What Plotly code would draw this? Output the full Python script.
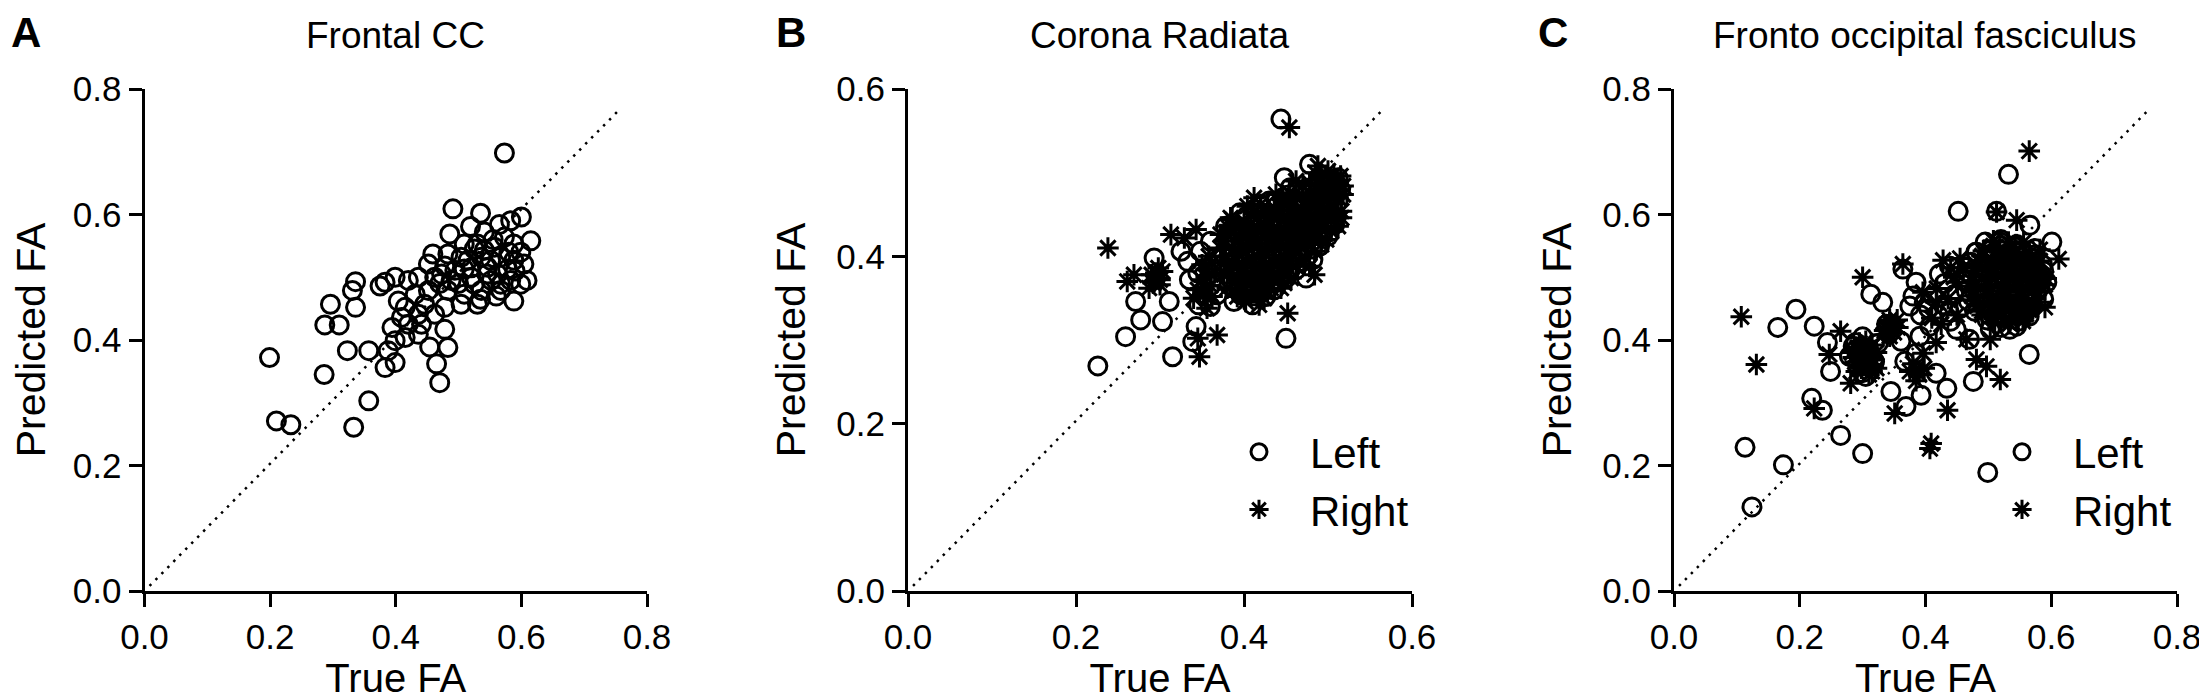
import plotly.graph_objects as go

FONT = "Liberation Sans, Arial, sans-serif"

# ---- data (True FA, Predicted FA) ----

# A: Frontal CC, one series
a_pts = [
    (0.573, 0.698), (0.491, 0.609), (0.535, 0.602), (0.600, 0.596), (0.583, 0.590),
    (0.565, 0.584), (0.519, 0.581), (0.486, 0.569), (0.541, 0.572), (0.615, 0.558),
    (0.573, 0.564), (0.588, 0.553), (0.557, 0.548), (0.530, 0.553), (0.509, 0.553),
    (0.459, 0.537), (0.483, 0.537), (0.504, 0.532), (0.536, 0.532), (0.567, 0.532),
    (0.599, 0.540), (0.604, 0.521), (0.452, 0.521), (0.478, 0.518), (0.509, 0.513),
    (0.546, 0.516), (0.578, 0.513), (0.436, 0.500), (0.462, 0.500), (0.488, 0.495),
    (0.520, 0.500), (0.552, 0.495), (0.583, 0.495), (0.599, 0.489), (0.609, 0.495),
    (0.420, 0.495), (0.383, 0.492), (0.399, 0.500), (0.375, 0.486), (0.336, 0.493),
    (0.331, 0.479), (0.336, 0.452), (0.296, 0.457), (0.287, 0.424), (0.310, 0.424),
    (0.452, 0.479), (0.483, 0.479), (0.509, 0.473), (0.536, 0.479), (0.567, 0.479),
    (0.588, 0.462), (0.530, 0.457), (0.504, 0.457), (0.478, 0.452), (0.446, 0.457),
    (0.415, 0.452), (0.409, 0.436), (0.436, 0.441), (0.462, 0.441), (0.478, 0.417),
    (0.394, 0.420), (0.420, 0.425), (0.441, 0.425), (0.415, 0.404), (0.436, 0.409),
    (0.399, 0.399), (0.454, 0.389), (0.483, 0.388), (0.388, 0.383), (0.357, 0.383),
    (0.323, 0.383), (0.383, 0.356), (0.399, 0.364), (0.465, 0.362), (0.470, 0.332),
    (0.199, 0.372), (0.286, 0.345), (0.357, 0.303), (0.333, 0.261), (0.210, 0.271),
    (0.233, 0.265), (0.494, 0.511), (0.525, 0.489), (0.562, 0.505), (0.541, 0.543),
    (0.473, 0.505), (0.567, 0.489), (0.515, 0.527), (0.551, 0.527), (0.588, 0.527),
    (0.431, 0.473), (0.404, 0.462), (0.525, 0.545), (0.555, 0.560), (0.580, 0.540),
    (0.500, 0.490), (0.545, 0.505), (0.520, 0.515), (0.470, 0.490), (0.590, 0.510),
    (0.535, 0.465), (0.560, 0.470),
]

# B: Corona Radiata
b_left = [
    (0.444, 0.564), (0.478, 0.510), (0.448, 0.494), (0.293, 0.398), (0.271, 0.346),
    (0.311, 0.346), (0.277, 0.324), (0.303, 0.322), (0.259, 0.304), (0.226, 0.269),
    (0.315, 0.280), (0.343, 0.316), (0.339, 0.298), (0.382, 0.366), (0.388, 0.346),
    (0.410, 0.342), (0.436, 0.360), (0.474, 0.374), (0.450, 0.302), (0.346, 0.342),
    (0.335, 0.372), (0.333, 0.394), (0.348, 0.406), (0.325, 0.406), (0.360, 0.418),
    (0.512, 0.494), (0.508, 0.474), (0.504, 0.450), (0.368, 0.354),
    (0.345, 0.380), (0.360, 0.340),
    (0.492, 0.497), (0.505, 0.488),
    (0.455, 0.482), (0.470, 0.478), (0.488, 0.484), (0.515, 0.480),
    (0.430, 0.466), (0.446, 0.470), (0.462, 0.462), (0.480, 0.468), (0.497, 0.462), (0.512, 0.466),
    (0.395, 0.452), (0.412, 0.456), (0.428, 0.448), (0.445, 0.454), (0.460, 0.446),
    (0.476, 0.452), (0.492, 0.446), (0.508, 0.438),
    (0.378, 0.436), (0.392, 0.430), (0.408, 0.438), (0.424, 0.432), (0.440, 0.436),
    (0.456, 0.430), (0.472, 0.436), (0.488, 0.430), (0.500, 0.424),
    (0.380, 0.420), (0.396, 0.414), (0.412, 0.422), (0.428, 0.416), (0.444, 0.420),
    (0.460, 0.414), (0.476, 0.420), (0.490, 0.412),
    (0.376, 0.402), (0.392, 0.398), (0.408, 0.404), (0.424, 0.398), (0.440, 0.404),
    (0.456, 0.398), (0.470, 0.404), (0.482, 0.396),
    (0.382, 0.386), (0.398, 0.382), (0.414, 0.388), (0.430, 0.382), (0.446, 0.388), (0.462, 0.384),
    (0.386, 0.370), (0.402, 0.366), (0.418, 0.372), (0.434, 0.368), (0.450, 0.374),
    (0.396, 0.354), (0.412, 0.358), (0.426, 0.352),
    (0.463, 0.478), (0.479, 0.482), (0.497, 0.478),
    (0.420, 0.462), (0.438, 0.466), (0.454, 0.458), (0.472, 0.464), (0.489, 0.466), (0.505, 0.458),
    (0.403, 0.448), (0.420, 0.452), (0.436, 0.446), (0.452, 0.450), (0.468, 0.448),
    (0.484, 0.450), (0.500, 0.444),
    (0.385, 0.432), (0.400, 0.434), (0.416, 0.432), (0.432, 0.434), (0.448, 0.432),
    (0.464, 0.434), (0.480, 0.432), (0.494, 0.428),
    (0.388, 0.416), (0.404, 0.418), (0.420, 0.418), (0.436, 0.418), (0.452, 0.416),
    (0.468, 0.418), (0.483, 0.414),
    (0.384, 0.400), (0.400, 0.400), (0.416, 0.400), (0.432, 0.400), (0.448, 0.400),
    (0.463, 0.400), (0.476, 0.400),
    (0.390, 0.384), (0.406, 0.384), (0.422, 0.384), (0.438, 0.384), (0.454, 0.386),
    (0.394, 0.368), (0.410, 0.368), (0.426, 0.370), (0.442, 0.370),
    (0.404, 0.356), (0.419, 0.356),
]
b_right = [
    (0.454, 0.554), (0.238, 0.410), (0.313, 0.426), (0.329, 0.422), (0.343, 0.432),
    (0.261, 0.370), (0.269, 0.378), (0.297, 0.374), (0.287, 0.362), (0.303, 0.382),
    (0.452, 0.332), (0.368, 0.306), (0.345, 0.302), (0.347, 0.280), (0.484, 0.378),
    (0.488, 0.508), (0.516, 0.446), (0.512, 0.470), (0.432, 0.362), (0.352, 0.354),
    (0.356, 0.338), (0.412, 0.470), (0.384, 0.446), (0.293, 0.370), (0.300, 0.366),
    (0.290, 0.378), (0.350, 0.372), (0.360, 0.365), (0.355, 0.385), (0.362, 0.392),
    (0.295, 0.380), (0.300, 0.372), (0.292, 0.368), (0.298, 0.386),
    (0.345, 0.360), (0.355, 0.375), (0.340, 0.350), (0.350, 0.390), (0.362, 0.352),
    (0.358, 0.400), (0.365, 0.380),
    (0.485, 0.500), (0.500, 0.502), (0.515, 0.496),
    (0.462, 0.490), (0.478, 0.488), (0.495, 0.484), (0.510, 0.488),
    (0.438, 0.474), (0.454, 0.476), (0.470, 0.472), (0.487, 0.474), (0.503, 0.470), (0.518, 0.474),
    (0.404, 0.460), (0.420, 0.462), (0.436, 0.458), (0.452, 0.462), (0.468, 0.456),
    (0.484, 0.460), (0.500, 0.456), (0.516, 0.454),
    (0.386, 0.444), (0.400, 0.442), (0.416, 0.446), (0.432, 0.442), (0.448, 0.444),
    (0.464, 0.440), (0.480, 0.444), (0.496, 0.440), (0.512, 0.436),
    (0.372, 0.426), (0.388, 0.428), (0.404, 0.426), (0.420, 0.430), (0.436, 0.426),
    (0.452, 0.428), (0.468, 0.426), (0.484, 0.428), (0.498, 0.420),
    (0.372, 0.410), (0.388, 0.408), (0.404, 0.412), (0.420, 0.408), (0.436, 0.412),
    (0.452, 0.408), (0.468, 0.412), (0.484, 0.406),
    (0.372, 0.392), (0.386, 0.390), (0.402, 0.394), (0.418, 0.390), (0.434, 0.394),
    (0.450, 0.390), (0.466, 0.394), (0.478, 0.388),
    (0.376, 0.378), (0.392, 0.374), (0.408, 0.378), (0.424, 0.376), (0.440, 0.378), (0.456, 0.374),
    (0.380, 0.362), (0.396, 0.360), (0.412, 0.364), (0.428, 0.358), (0.444, 0.362),
    (0.402, 0.346), (0.418, 0.342),
    (0.492, 0.494), (0.507, 0.498),
    (0.470, 0.484), (0.486, 0.480), (0.502, 0.490), (0.518, 0.484),
    (0.446, 0.468), (0.462, 0.470), (0.478, 0.466), (0.495, 0.468), (0.510, 0.476),
    (0.412, 0.452), (0.428, 0.454), (0.444, 0.450), (0.460, 0.454), (0.476, 0.450),
    (0.492, 0.452), (0.508, 0.448),
    (0.380, 0.436), (0.394, 0.434), (0.408, 0.438), (0.424, 0.436), (0.440, 0.434),
    (0.456, 0.436), (0.472, 0.432), (0.488, 0.436), (0.504, 0.430),
    (0.378, 0.418), (0.396, 0.420), (0.412, 0.416), (0.428, 0.420), (0.444, 0.416),
    (0.460, 0.420), (0.476, 0.416), (0.492, 0.414),
    (0.378, 0.400), (0.394, 0.402), (0.410, 0.398), (0.426, 0.402), (0.442, 0.398),
    (0.458, 0.402), (0.474, 0.398),
    (0.382, 0.384), (0.398, 0.386), (0.414, 0.382), (0.430, 0.386), (0.446, 0.382), (0.462, 0.388),
    (0.386, 0.368), (0.402, 0.370), (0.418, 0.366), (0.434, 0.372), (0.448, 0.368),
    (0.392, 0.352), (0.408, 0.354), (0.424, 0.350),
]

# C: Fronto occipital fasciculus
c_left = [
    (0.532, 0.664), (0.452, 0.605), (0.513, 0.605), (0.601, 0.556), (0.566, 0.583),
    (0.194, 0.449), (0.165, 0.420), (0.223, 0.422), (0.244, 0.396), (0.249, 0.350),
    (0.219, 0.307), (0.236, 0.288), (0.265, 0.248), (0.300, 0.219), (0.113, 0.229),
    (0.174, 0.201), (0.124, 0.134), (0.499, 0.189), (0.565, 0.377), (0.476, 0.334),
    (0.434, 0.323), (0.393, 0.312), (0.345, 0.318), (0.369, 0.294), (0.319, 0.366),
    (0.361, 0.398), (0.367, 0.366), (0.385, 0.379), (0.391, 0.406), (0.407, 0.422),
    (0.332, 0.460), (0.313, 0.473), (0.364, 0.513), (0.385, 0.492), (0.375, 0.454),
    (0.449, 0.417), (0.438, 0.444), (0.470, 0.401), (0.417, 0.347), (0.519, 0.556),
    (0.481, 0.540), (0.545, 0.540), (0.593, 0.492), (0.588, 0.465), (0.503, 0.417),
    (0.534, 0.417), (0.289, 0.396), (0.279, 0.374), (0.305, 0.342),
    (0.290, 0.385), (0.310, 0.385), (0.298, 0.375), (0.292, 0.360), (0.318, 0.362),
    (0.300, 0.348), (0.338, 0.425), (0.342, 0.410), (0.300, 0.405), (0.325, 0.395),
    (0.285, 0.390),
    (0.412, 0.470), (0.428, 0.456), (0.445, 0.472), (0.420, 0.440), (0.440, 0.430),
    (0.455, 0.450), (0.430, 0.490), (0.405, 0.450), (0.422, 0.505), (0.438, 0.518),
    (0.380, 0.470), (0.392, 0.440), (0.398, 0.460),
    (0.495, 0.556), (0.520, 0.560), (0.545, 0.552),
    (0.480, 0.540), (0.505, 0.544), (0.530, 0.538), (0.555, 0.542), (0.575, 0.536),
    (0.472, 0.524), (0.497, 0.528), (0.522, 0.522), (0.547, 0.526), (0.572, 0.520),
    (0.468, 0.508), (0.492, 0.512), (0.517, 0.506), (0.542, 0.510), (0.567, 0.504), (0.588, 0.510),
    (0.462, 0.494), (0.487, 0.498), (0.512, 0.492), (0.537, 0.496), (0.562, 0.490), (0.584, 0.496),
    (0.465, 0.478), (0.490, 0.482), (0.515, 0.476), (0.540, 0.480), (0.565, 0.474),
    (0.468, 0.462), (0.493, 0.466), (0.518, 0.460), (0.543, 0.464), (0.568, 0.458),
    (0.478, 0.446), (0.503, 0.450), (0.528, 0.444), (0.553, 0.448),
    (0.498, 0.432), (0.523, 0.436), (0.548, 0.430), (0.565, 0.438),
    (0.520, 0.420), (0.545, 0.422),
    (0.520, 0.550), (0.545, 0.548),
    (0.503, 0.534), (0.528, 0.532), (0.552, 0.532), (0.574, 0.546),
    (0.492, 0.518), (0.518, 0.516), (0.542, 0.518), (0.566, 0.514), (0.586, 0.520),
    (0.487, 0.502), (0.512, 0.500), (0.538, 0.502), (0.562, 0.498), (0.584, 0.504),
    (0.484, 0.486), (0.510, 0.486), (0.536, 0.484), (0.560, 0.486), (0.582, 0.484),
    (0.487, 0.470), (0.512, 0.470), (0.538, 0.468), (0.562, 0.470),
    (0.495, 0.454), (0.520, 0.454), (0.545, 0.452), (0.568, 0.452),
    (0.501, 0.440), (0.524, 0.440), (0.548, 0.440),
]
c_right = [
    (0.565, 0.701), (0.107, 0.437), (0.131, 0.361), (0.223, 0.291), (0.407, 0.227),
    (0.409, 0.235), (0.351, 0.283), (0.435, 0.288), (0.519, 0.337), (0.497, 0.358),
    (0.481, 0.369), (0.590, 0.452), (0.612, 0.529), (0.364, 0.521), (0.300, 0.500),
    (0.265, 0.414), (0.247, 0.377), (0.281, 0.331), (0.428, 0.527), (0.503, 0.401),
    (0.465, 0.401), (0.417, 0.396), (0.396, 0.379), (0.385, 0.353), (0.545, 0.591),
    (0.513, 0.604), (0.417, 0.460), (0.449, 0.492), (0.396, 0.476), (0.343, 0.428),
    (0.343, 0.406),
    (0.300, 0.390), (0.285, 0.372), (0.312, 0.372), (0.305, 0.360), (0.315, 0.350),
    (0.290, 0.350), (0.350, 0.420), (0.355, 0.432), (0.335, 0.415),
    (0.295, 0.395), (0.305, 0.398), (0.315, 0.392), (0.322, 0.380), (0.318, 0.368),
    (0.322, 0.355), (0.310, 0.345), (0.298, 0.355), (0.288, 0.365), (0.283, 0.380),
    (0.292, 0.388), (0.302, 0.382), (0.308, 0.368), (0.296, 0.368),
    (0.345, 0.425), (0.338, 0.418), (0.350, 0.412), (0.343, 0.432), (0.356, 0.420),
    (0.333, 0.408),
    (0.375, 0.350), (0.390, 0.345), (0.385, 0.335), (0.380, 0.362), (0.398, 0.355),
    (0.418, 0.482), (0.436, 0.466), (0.450, 0.440), (0.425, 0.425), (0.410, 0.435),
    (0.445, 0.500), (0.460, 0.515), (0.455, 0.530), (0.440, 0.515),
    (0.508, 0.550), (0.533, 0.548), (0.556, 0.556),
    (0.490, 0.534), (0.515, 0.532), (0.540, 0.534), (0.565, 0.530), (0.582, 0.544),
    (0.480, 0.518), (0.505, 0.520), (0.530, 0.514), (0.555, 0.518), (0.578, 0.514),
    (0.474, 0.502), (0.500, 0.504), (0.525, 0.498), (0.550, 0.502), (0.575, 0.498),
    (0.470, 0.486), (0.498, 0.488), (0.523, 0.484), (0.548, 0.488), (0.573, 0.482), (0.590, 0.488),
    (0.474, 0.470), (0.500, 0.472), (0.525, 0.468), (0.550, 0.472), (0.575, 0.466),
    (0.482, 0.454), (0.508, 0.458), (0.533, 0.452), (0.558, 0.456),
    (0.490, 0.440), (0.512, 0.442), (0.536, 0.438), (0.560, 0.442),
    (0.510, 0.428), (0.534, 0.426), (0.555, 0.430),
    (0.508, 0.558), (0.532, 0.556),
    (0.492, 0.542), (0.518, 0.540), (0.543, 0.540), (0.565, 0.538),
    (0.484, 0.526), (0.510, 0.524), (0.535, 0.524), (0.560, 0.522), (0.582, 0.526),
    (0.480, 0.510), (0.505, 0.508), (0.530, 0.508), (0.555, 0.506), (0.578, 0.508),
    (0.474, 0.494), (0.500, 0.494), (0.525, 0.492), (0.550, 0.494), (0.574, 0.492), (0.592, 0.498),
    (0.478, 0.478), (0.503, 0.478), (0.528, 0.476), (0.553, 0.478), (0.578, 0.476),
    (0.480, 0.462), (0.505, 0.462), (0.530, 0.460), (0.555, 0.462), (0.580, 0.460),
    (0.490, 0.446), (0.515, 0.448), (0.540, 0.446), (0.565, 0.448),
    (0.510, 0.434), (0.535, 0.432), (0.556, 0.436),
]

# dotted reference lines (start, end)
diag_a_x = [0.008, 0.756]
diag_a_y = [0.008, 0.767]
diag_b_x = [0.006, 0.565]
diag_b_y = [0.006, 0.575]
diag_c_x = [0.008, 0.755]
diag_c_y = [0.008, 0.767]

titles = ["Frontal CC", "Corona Radiata", "Fronto occipital fasciculus"]
letters = ["A", "B", "C"]
ticks_08 = [0, 0.2, 0.4, 0.6, 0.8]
ticks_06 = [0, 0.2, 0.4, 0.6]

# ---- figure ----
W, H = 2207, 696
x_dom = [[136.5 / W, 639 / W], [900 / W, 1404 / W], [1666 / W, 2169 / W]]
y_dom = [113 / H, 615 / H]

fig = go.Figure()


def add_points(pts, n, symbol, name, legend=None):
    fig.add_trace(go.Scatter(
        x=[p[0] for p in pts], y=[p[1] for p in pts],
        xaxis="x" + ("" if n == 1 else str(n)),
        yaxis="y" + ("" if n == 1 else str(n)),
        mode="markers", name=name,
        marker=dict(symbol=symbol, size=18, color="black",
                    line=dict(color="black", width=3)),
        showlegend=legend is not None,
        legend=legend or "legend",
    ))


def add_diag(xs, ys, n):
    fig.add_trace(go.Scatter(
        x=xs, y=ys, mode="lines",
        xaxis="x" + ("" if n == 1 else str(n)),
        yaxis="y" + ("" if n == 1 else str(n)),
        line=dict(color="black", width=2.5, dash="2.5px,6px"),
        showlegend=False, hoverinfo="skip",
    ))


add_diag(diag_a_x, diag_a_y, 1)
add_diag(diag_b_x, diag_b_y, 2)
add_diag(diag_c_x, diag_c_y, 3)

add_points(a_pts, 1, "circle-open", "Left")
add_points(b_left, 2, "circle-open", "Left", "legend")
add_points(b_right, 2, "asterisk-open", "Right", "legend")
add_points(c_left, 3, "circle-open", "Left", "legend2")
add_points(c_right, 3, "asterisk-open", "Right", "legend2")

axis_common = dict(
    showline=True, linewidth=3, linecolor="black",
    ticks="outside", ticklen=13, tickwidth=3, tickcolor="black",
    showgrid=False, zeroline=False, tickformat=".1f", automargin=False,
    tickfont=dict(family=FONT, size=35, color="black"),
)

ranges = [(0.8, ticks_08), (0.6, ticks_06), (0.8, ticks_08)]
for i in range(3):
    top, tv = ranges[i]
    sfx = "" if i == 0 else str(i + 1)
    fig.layout["xaxis" + sfx] = dict(
        axis_common, domain=x_dom[i], range=[0, top], tickvals=tv,
        anchor="y" + sfx,
        title=dict(text="True FA", standoff=0,
                   font=dict(family=FONT, size=40, color="black")),
    )
    fig.layout["yaxis" + sfx] = dict(
        axis_common, domain=y_dom, range=[0, top], tickvals=tv,
        anchor="x" + sfx,
        title=dict(text="Predicted FA", standoff=18,
                   font=dict(family=FONT, size=41, color="black")),
    )
    cx = (x_dom[i][0] + x_dom[i][1]) / 2
    fig.add_annotation(text=titles[i], x=cx, y=1 - 27.5 / H,
                       xref="paper", yref="paper", showarrow=False,
                       xanchor="center", yanchor="middle",
                       font=dict(family=FONT, size=37, color="black"))

letter_x = [2, 767, 1529]
for i in range(3):
    fig.add_annotation(text="<b>" + letters[i] + "</b>", x=letter_x[i] / W,
                       y=1, xref="paper", yref="paper",
                       showarrow=False, xanchor="left", yanchor="top",
                       borderpad=0,
                       font=dict(family=FONT, size=42, color="black"))

legend_common = dict(
    xanchor="left", yanchor="top", bgcolor="rgba(0,0,0,0)",
    font=dict(family=FONT, size=42, color="black"),
    itemwidth=92, itemsizing="trace", itemclick=False,
)

fig.update_layout(
    width=W, height=H,
    margin=dict(l=0, r=0, t=0, b=0),
    paper_bgcolor="white", plot_bgcolor="white",
    font=dict(family=FONT, color="black"),
    legend=dict(legend_common, x=1200 / W, y=1 - 410 / H),
    legend2=dict(legend_common, x=1963 / W, y=1 - 410 / H),
)

fig.write_html("out.html")
